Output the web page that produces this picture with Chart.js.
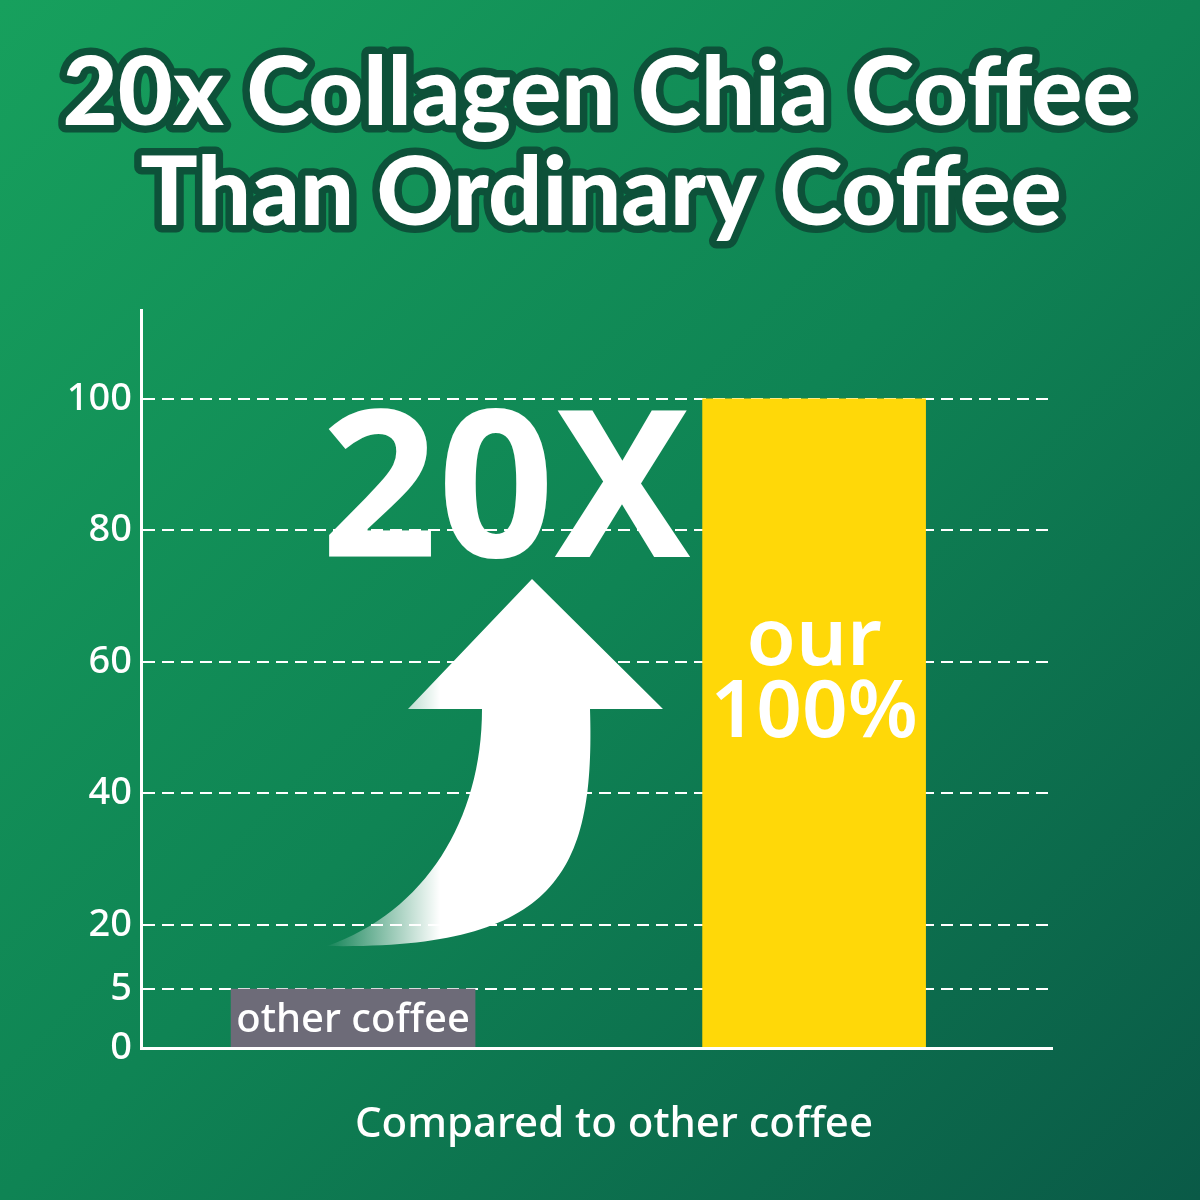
<!DOCTYPE html>
<html>
<head>
<meta charset="utf-8">
<script src="https://cdn.jsdelivr.net/npm/chart.js@4.4.1/dist/chart.umd.min.js"></script>
<style>
html,body{margin:0;padding:0;background:#0f8453;}
#wrap{width:1200px;height:1200px;position:relative;}
</style>
</head>
<body>
<div id="wrap"><canvas id="c" width="1200" height="1200"></canvas></div>
<script>
// ---- data ----
const titleLines = ['20x Collagen Chia Coffee', 'Than Ordinary Coffee'];
const categories = ['other coffee', 'our'];
const values = [5, 100];
const barLabels = [['other coffee'], ['our', '100%']];
const barColors = ['#6d6b78', '#ffd808'];
const yTicks = [0, 5, 20, 40, 60, 80, 100];
const xAxisTitle = 'Compared to other coffee';
const bigLabel = '20X';

// ---- axis configuration (uneven axis spacing as in the picture) ----
const yMax = 113.5;
const yBreaks = [0, 5, 20, yMax];
const yBreakPos = [0, 0.080, 0.1667, 1];

function warp(v) {
  for (let i = 1; i < yBreaks.length; i++) {
    if (v <= yBreaks[i] || i === yBreaks.length - 1) {
      const t = (v - yBreaks[i - 1]) / (yBreaks[i] - yBreaks[i - 1]);
      return yBreakPos[i - 1] + t * (yBreakPos[i] - yBreakPos[i - 1]);
    }
  }
  return 0;
}
function unwarp(d) {
  for (let i = 1; i < yBreakPos.length; i++) {
    if (d <= yBreakPos[i] || i === yBreakPos.length - 1) {
      const t = (d - yBreakPos[i - 1]) / (yBreakPos[i] - yBreakPos[i - 1]);
      return yBreaks[i - 1] + t * (yBreaks[i] - yBreaks[i - 1]);
    }
  }
  return 0;
}

class BrokenScale extends Chart.LinearScale {
  getPixelForValue(v) {
    if (v === null || v === undefined || isNaN(v)) return NaN;
    return this.getPixelForDecimal(warp(v));
  }
  getValueForPixel(p) {
    return unwarp(this.getDecimalForPixel(p));
  }
}
BrokenScale.id = 'broken';
BrokenScale.defaults = Chart.LinearScale.defaults;
Chart.register(BrokenScale);

const FONT = "'Noto Sans', 'Open Sans', sans-serif";

const bgPlugin = {
  id: 'bg',
  beforeDraw(chart) {
    const ctx = chart.ctx, w = chart.width, h = chart.height;
    ctx.save();
    const g = ctx.createLinearGradient(0, 0, w, h);
    g.addColorStop(0, '#17a05d');
    g.addColorStop(0.5, '#0f8454');
    g.addColorStop(1, '#0a5a47');
    ctx.fillStyle = g;
    ctx.fillRect(0, 0, w, h);

    // title with dark outline
    ctx.font = "900 100px Lato, 'Open Sans', sans-serif";
    const w1 = ctx.measureText(titleLines[0]).width;
    const size = 100 * 1071 / w1;
    ctx.font = `900 ${size}px Lato, 'Open Sans', sans-serif`;
    ctx.textAlign = 'center';
    ctx.textBaseline = 'alphabetic';
    ctx.lineJoin = 'round';
    const ys = [125, 225];
    const xs = [598, 601];
    titleLines.forEach((t, i) => {
      ctx.lineWidth = 15;
      ctx.strokeStyle = '#0d5139';
      ctx.strokeText(t, xs[i], ys[i]);
      ctx.fillStyle = '#ffffff';
      ctx.fillText(t, xs[i], ys[i]);
    });
    ctx.restore();
  }
};

const decorPlugin = {
  id: 'decor',
  afterDatasetsDraw(chart) {
    const ctx = chart.ctx;
    ctx.save();
    // big "20X"
    ctx.fillStyle = '#ffffff';
    ctx.font = `700 204px ${FONT}`;
    ctx.textAlign = 'center';
    ctx.textBaseline = 'alphabetic';
    ctx.fillText(bigLabel, 506, 557);

    // curved arrow
    const grad = ctx.createLinearGradient(325, 0, 440, 0);
    grad.addColorStop(0, 'rgba(255,255,255,0)');
    grad.addColorStop(1, 'rgba(255,255,255,1)');
    ctx.fillStyle = grad;
    ctx.beginPath();
    ctx.moveTo(532, 579);
    ctx.lineTo(663, 709);
    ctx.lineTo(590, 709);
    ctx.bezierCurveTo(595, 870, 560, 950, 327, 946);
    ctx.bezierCurveTo(425, 912, 482, 820, 482, 709);
    ctx.lineTo(408, 709);
    ctx.closePath();
    ctx.fill();

    // bar labels
    chart.data.datasets.forEach((ds, di) => {
      const meta = chart.getDatasetMeta(di);
      const bar = meta.data[0];
      if (!bar) return;
      const lines = barLabels[di];
      ctx.fillStyle = '#ffffff';
      ctx.textAlign = 'center';
      ctx.textBaseline = 'alphabetic';
      if (lines.length === 1) {
        ctx.font = `500 40px ${FONT}`;
        ctx.fillText(lines[0], bar.x, bar.base - 15);
      } else {
        ctx.font = `600 80px ${FONT}`;
        const mid = (bar.y + bar.base) / 2;
        ctx.fillText(lines[0], bar.x, mid - 58);
        ctx.fillText(lines[1], bar.x, mid + 14);
      }
    });

    // x-axis title
    ctx.font = `500 42px ${FONT}`;
    ctx.textAlign = 'center';
    ctx.textBaseline = 'alphabetic';
    ctx.fillText(xAxisTitle, 614, 1137);
    ctx.restore();
  }
};

const barThickness = [244, 223];

new Chart(document.getElementById('c'), {
  type: 'bar',
  data: {
    datasets: categories.map((cat, i) => ({
      label: cat,
      data: [{ x: i, y: values[i] }],
      backgroundColor: barColors[i],
      borderWidth: 0,
      barThickness: barThickness[i],
      grouped: false
    }))
  },
  options: {
    responsive: false,
    devicePixelRatio: 1,
    animation: false,
    layout: { padding: { left: 0, right: 148, top: 310, bottom: 0 } },
    plugins: {
      legend: { display: false },
      tooltip: { enabled: false },
      title: { display: false }
    },
    scales: {
      x: {
        type: 'linear',
        offset: false,
        bounds: 'data',
        min: -0.46,
        max: 1.516,
        ticks: { display: false },
        grid: { display: false, offset: false },
        border: { display: true, color: '#ffffff', width: 3, z: 1 },
        afterFit(s) { s.height = 152; }
      },
      y: {
        type: 'broken',
        min: 0,
        max: yMax,
        afterBuildTicks(s) { s.ticks = yTicks.map(v => ({ value: v })); },
        ticks: {
          color: '#ffffff',
          font: { family: FONT, size: 38, weight: '500' },
          padding: 9,
          callback: (v) => String(v)
        },
        grid: {
          drawTicks: false,
          lineWidth: 2,
          color: (c) => (c.tick && c.tick.value === 0) ? 'rgba(0,0,0,0)' : '#ffffff'
        },
        border: { display: true, color: '#ffffff', width: 3, dash: [12, 7] },
        afterFit(s) { s.width = 141; }
      }
    }
  },
  plugins: [bgPlugin, decorPlugin]
});
</script>
</body>
</html>
